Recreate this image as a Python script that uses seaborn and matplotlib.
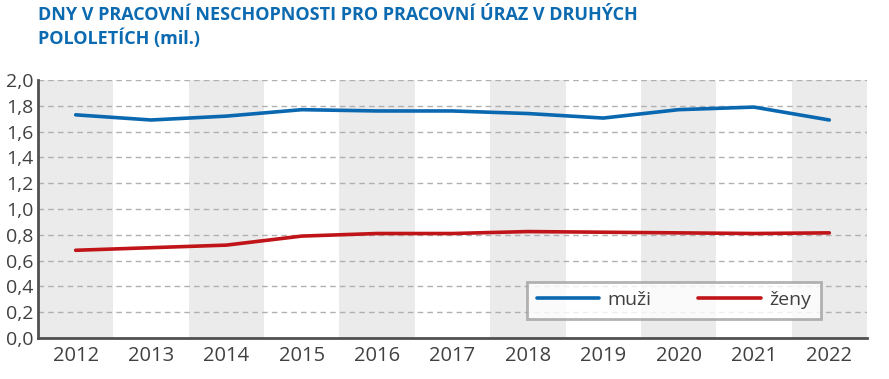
import matplotlib
matplotlib.use("Agg")
import matplotlib.pyplot as plt
import seaborn as sns
import pandas as pd
from matplotlib import font_manager

years = [2012, 2013, 2014, 2015, 2016, 2017, 2018, 2019, 2020, 2021, 2022]
muzi = [1.73, 1.69, 1.72, 1.77, 1.76, 1.76, 1.74, 1.705, 1.77, 1.79, 1.69]
zeny = [0.68, 0.70, 0.72, 0.79, 0.81, 0.81, 0.825, 0.82, 0.815, 0.81, 0.815]
series_names = ["muži", "ženy"]
y_ticks = [0.0, 0.2, 0.4, 0.6, 0.8, 1.0, 1.2, 1.4, 1.6, 1.8, 2.0]
title = "DNY V PRACOVNÍ NESCHOPNOSTI PRO PRACOVNÍ ÚRAZ V DRUHÝCH\nPOLOLETÍCH (mil.)"

sns.set_style("white")
names = {f.name for f in font_manager.fontManager.ttflist}
fam = [f for f in ["Liberation Sans Narrow", "Open Sans", "DejaVu Sans"] if f in names]
plt.rcParams["font.family"] = fam

df = pd.DataFrame({
    "x": list(range(len(years))) * 2,
    "value": muzi + zeny,
    "serie": [series_names[0]] * len(years) + [series_names[1]] * len(years),
})

fig = plt.figure(figsize=(8.89, 3.79), dpi=100)
ax = fig.add_axes([38 / 889, 1 - 338 / 379, (867 - 38) / 889, 258 / 379])

# sede pruhy za sudymi roky
for i in range(0, len(years), 2):
    ax.axvspan(i - 0.5, i + 0.5, color="#ebebeb", zorder=0, lw=0)

for v in y_ticks[1:]:
    ax.axhline(v, color="#b0b0b0", lw=1, ls=(0, (4, 3)), zorder=1)

sns.lineplot(data=df, x="x", y="value", hue="serie",
             palette={"muži": "#0a68b0", "ženy": "#c01418"},
             linewidth=2.6, ax=ax, zorder=3)

ax.set_xlim(-0.5, len(years) - 0.5)
ax.set_ylim(0, 2.0)
ax.set_xticks(range(len(years)))
ax.set_xticklabels([str(y) for y in years], fontsize=14.5, color="#404040")
ax.set_yticks(y_ticks)
ax.set_yticklabels([f"{v:.1f}".replace(".", ",") for v in y_ticks], fontsize=14, color="#404040")
ax.tick_params(axis="x", length=0, pad=6)
ax.tick_params(axis="y", length=0, pad=3)
ax.set_xlabel("")
ax.set_ylabel("")

for s in ["top", "right"]:
    ax.spines[s].set_visible(False)
for s in ["left", "bottom"]:
    ax.spines[s].set_color("#505050")
    ax.spines[s].set_linewidth(2)

leg = ax.legend(loc="lower left", bbox_to_anchor=((527 - 38) / 829, (338 - 319) / 258),
                ncol=2, frameon=True, fancybox=False, fontsize=14, borderaxespad=0,
                handlelength=3.2, columnspacing=2.4, borderpad=0.5, handletextpad=0.45)
leg.get_frame().set_edgecolor("#a0a0a0")
leg.get_frame().set_linewidth(2)
for t in leg.get_texts():
    t.set_color("#404040")

fig.text(38 / 889, 1 - 6 / 379, title, fontsize=13, fontweight="bold",
         color="#0b6ab0", va="top", ha="left", linespacing=1.3)

fig.savefig("out.png", dpi=100)
